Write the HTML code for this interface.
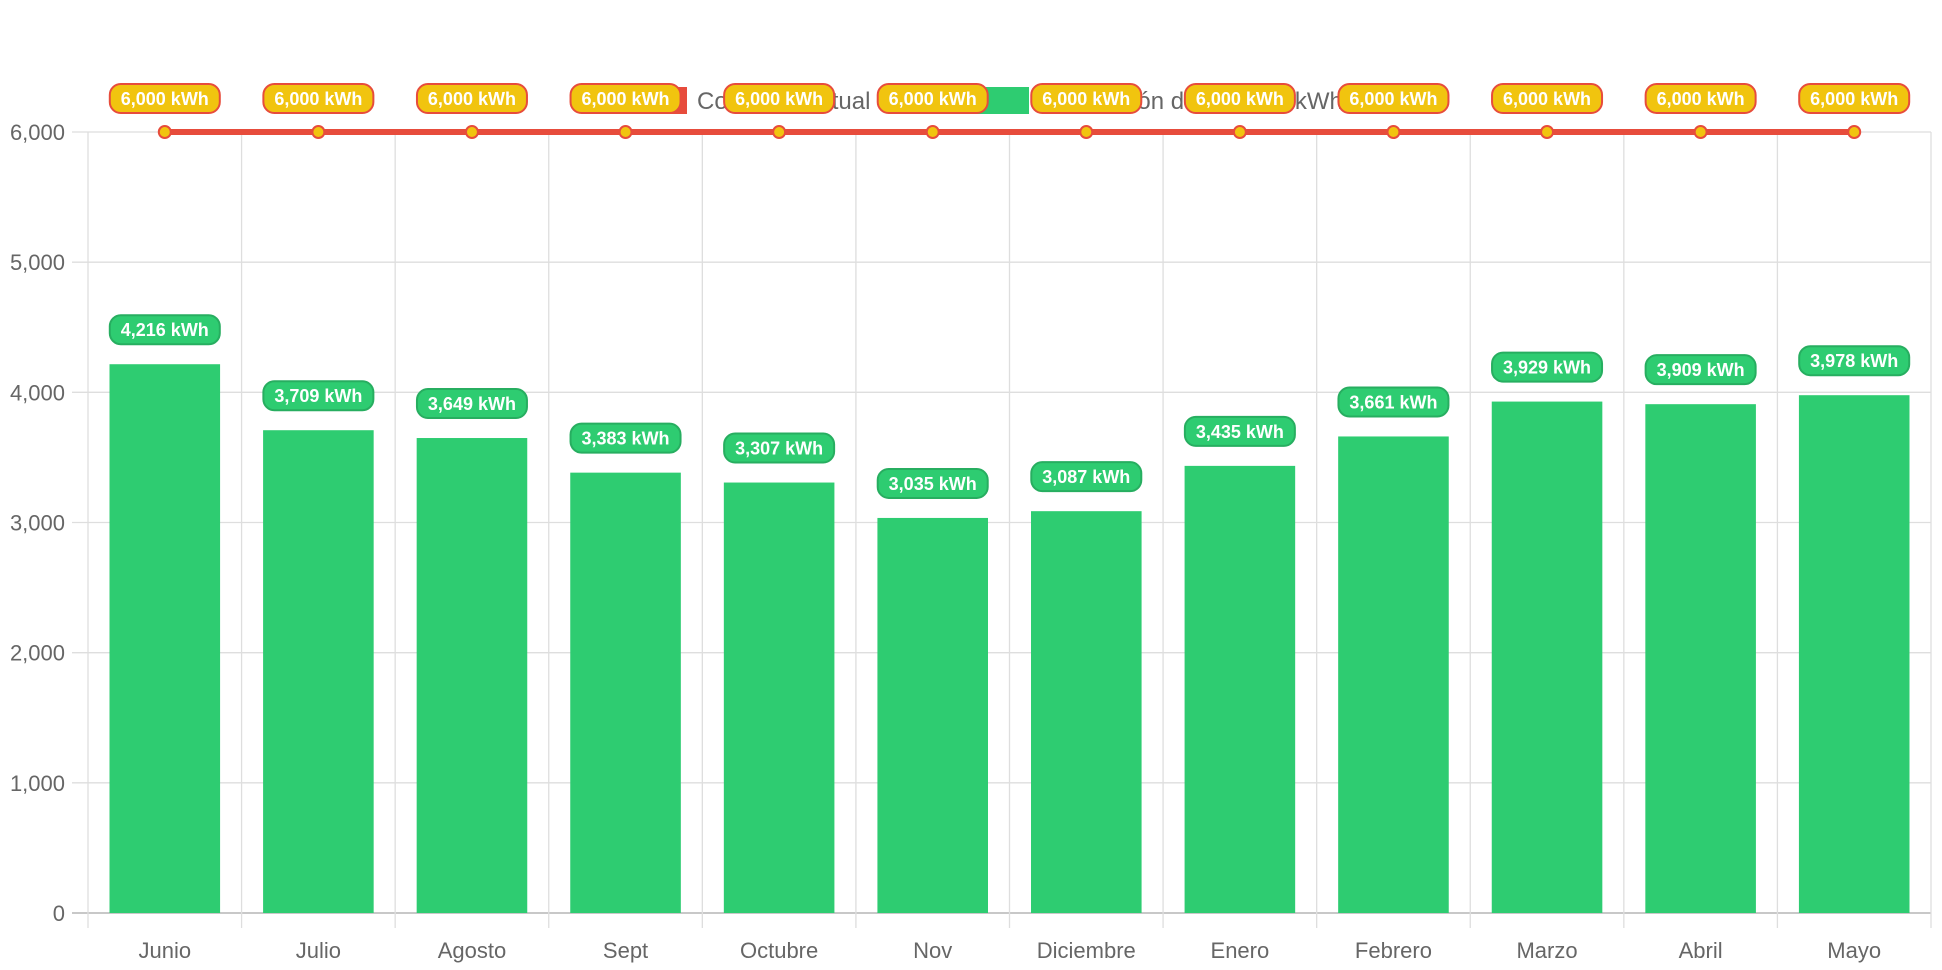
<!DOCTYPE html>
<html><head><meta charset="utf-8"><style>
html,body{margin:0;padding:0;background:#fff;width:1942px;height:970px;overflow:hidden}
svg{display:block;font-family:"Liberation Sans",Arial,sans-serif}
</style></head><body>
<svg id="chart" width="1942" height="970" viewBox="0 0 1942 970" xmlns="http://www.w3.org/2000/svg"></svg>
<script>
const categories=["Junio","Julio","Agosto","Sept","Octubre","Nov","Diciembre","Enero","Febrero","Marzo","Abril","Mayo"];
const generation=[4216,3709,3649,3383,3307,3035,3087,3435,3661,3929,3909,3978];
const consumption=[6000,6000,6000,6000,6000,6000,6000,6000,6000,6000,6000,6000];
const yTicks=[0,1000,2000,3000,4000,5000,6000];
const yTickLabels=["0","1,000","2,000","3,000","4,000","5,000","6,000"];

const NS="http://www.w3.org/2000/svg";
const svg=document.getElementById('chart');
const L=88,R=1931,T=132,B=913,YMAX=6000;
const cw=(R-L)/categories.length;
function yS(v){return B-(v/YMAX)*(B-T);}
function xC(i){return L+cw*(i+0.5);}
function fmt(v){return v.toLocaleString('en-US');}
function mk(tag,attrs,parent){const e=document.createElementNS(NS,tag);for(const k in attrs)e.setAttribute(k,attrs[k]);(parent||svg).appendChild(e);return e;}

// gridlines
const grid=mk('g',{});


yTicks.forEach((t,i)=>{
  const y=yS(t);
  mk('line',{x1:72,x2:R,y1:y,y2:y,stroke:i===0?'#c8c8c8':'#dedede','stroke-width':i===0?2:1.3},grid);
  const tx=mk('text',{x:65,y:y+8,'text-anchor':'end','font-size':22,fill:'#666'});
  tx.textContent=yTickLabels[i];
  
  
});
for(let i=0;i<=categories.length;i++){
  const x=L+cw*i;
  mk('line',{x1:x,x2:x,y1:T,y2:B+15,stroke:'#dedede','stroke-width':1.3},grid);
}
categories.forEach((c,i)=>{
  const tx=mk('text',{x:xC(i),y:958,'text-anchor':'middle','font-size':22,fill:'#666'});
  tx.textContent=c;
  
  
});

// legend
const lg=mk('g',{});


mk('rect',{x:603,y:87,width:84,height:27,fill:'#e74c3c'},lg);
const l1=mk('text',{x:697,y:109,'font-size':24,fill:'#666'},lg);l1.textContent='Consumo actual';


mk('rect',{x:963,y:87,width:66,height:27,fill:'#2ecc71'},lg);
const l2=mk('text',{x:1040,y:109,'font-size':24,fill:'#666'},lg);l2.textContent='Generación de paneles kWh';



// bars
const bw=cw*0.72;
generation.forEach((v,i)=>{
  const r=mk('rect',{x:xC(i)-bw/2,y:yS(v),width:bw,height:B-yS(v),fill:'#2ecc71'});
  
  
});

// line
const pts=consumption.map((v,i)=>xC(i)+','+yS(v)).join(' ');
const ln=mk('polyline',{points:pts,fill:'none',stroke:'#e74c3c','stroke-width':6});


consumption.forEach((v,i)=>{
  const c=mk('circle',{cx:xC(i),cy:yS(v),r:6,fill:'#f1c40f',stroke:'#e74c3c','stroke-width':2});
  
  
});

function pill(cx,bottom,text,fill,stroke,name){
  const g=mk('g',{});
  
  
  mk('rect',{x:cx-55,y:bottom-29,width:110,height:29,rx:11,fill:fill,stroke:stroke,'stroke-width':2},g);
  const t=mk('text',{x:cx,y:bottom-8,'text-anchor':'middle','font-size':18,'font-weight':'bold',fill:'#fff'},g);
  t.textContent=text;
}
generation.forEach((v,i)=>pill(xC(i),yS(v)-20,fmt(v)+' kWh','#2ecc71','#27ae60','generation-value-label'));
consumption.forEach((v,i)=>pill(xC(i),yS(v)-19,fmt(v)+' kWh','#f1c40f','#e74c3c','consumption-value-label'));
</script>
</body></html>
